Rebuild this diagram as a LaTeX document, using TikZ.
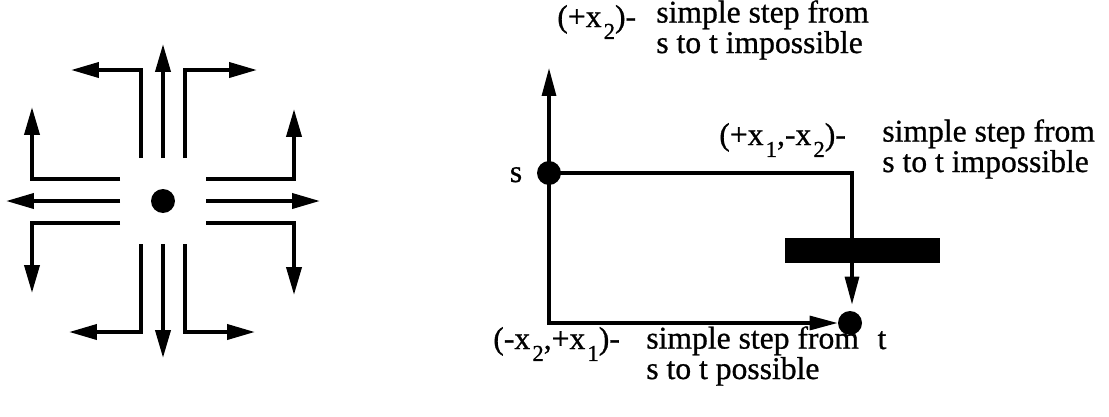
\documentclass[tikz,border=0pt]{standalone}
\usepackage{fontspec}
\setmainfont[FakeBold=0.8]{Liberation Serif}
\usetikzlibrary{arrows.meta}

% lowered index as in x_2
\newcommand{\lowidx}[1]{\kern1.2pt\raisebox{-6.8pt}{\fontsize{13}{13}\selectfont #1}}

\begin{document}
\begin{tikzpicture}[x=0.02cm, y=-0.02cm,
    font=\fontsize{18}{14.7}\selectfont,
    dot/.style={circle, fill=black, inner sep=0pt, minimum size=0.48cm},
    move/.style={line width=2.2pt, -{Triangle[length=0.56cm, width=0.3cm]}},
    route/.style={line width=1.8pt, -{Triangle[length=0.56cm, width=0.28cm]}},
    lbl/.style={anchor=base west, inner sep=0pt, align=left}]
  \useasboundingbox (0,0) rectangle (1109,416);

  % all simple steps out of one point
  \node[dot] (c) at (163,201) {};
  \foreach \ang in {0,90,180,270} {
    \begin{scope}[shift={(c)}, rotate=\ang]
      \draw[move] (0,-43) -- (0,-157);
      \draw[move] (-22,-43) -- (-22,-131) -- (-92,-131);
      \draw[move] (22,-43) -- (22,-131) -- (94,-131);
    \end{scope}
  }

  % steps from s to t
  \node[dot] (s) at (549,173) {};
  \node[dot] (t) at (850,323) {};
  \node[anchor=base, inner sep=0pt] (slbl) at (516,182) {s};
  \node[anchor=base, inner sep=0pt] (tlbl) at (882,349) {t};
  \coordinate (top) at (549,68);
  \coordinate (corner) at (852,173);
  \draw[route] (s.center) -- (top);
  \draw[route, shorten >=0.12cm] (s.center) -- (corner) -- (corner |- t.north);
  \draw[route] (s.center) |- (t);
  \node[fill=black, inner sep=0pt, minimum width=3.1cm, minimum height=0.5cm] (bar) at (862.5,250.5) {};

  % base anchor sits on the last line
  \node[lbl] (lup) at (557,27) {(+x\lowidx{2})-};
  \node[lbl] (dup) at (656,53) {simple step from\\s to t impossible};
  \node[lbl] (lright) at (719,145) {(+x\lowidx{1},-x\lowidx{2})-};
  \node[lbl] (dright) at (882,172) {simple step from\\s to t impossible};
  \node[lbl] (ldown) at (493,349) {(-x\lowidx{2},+x\lowidx{1})-};
  \node[lbl] (ddown) at (646,379) {simple step from\\s to t possible};
\end{tikzpicture}
\end{document}
